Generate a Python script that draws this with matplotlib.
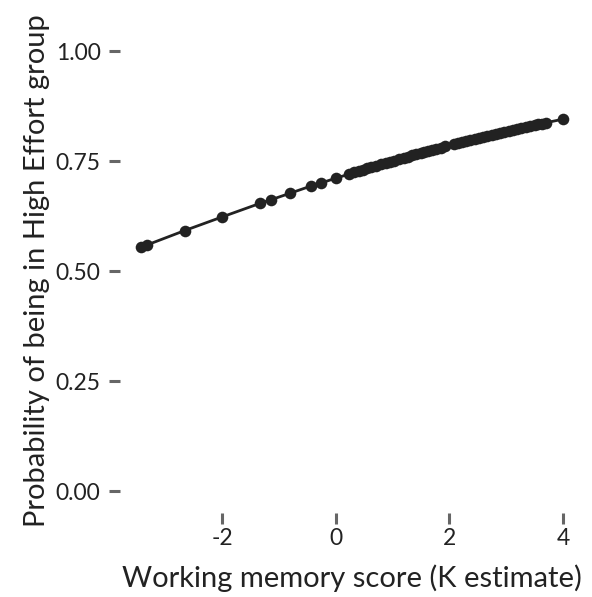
import matplotlib
matplotlib.use('Agg')
import matplotlib.pyplot as plt

# values
wm_score = [-3.43, -3.33, -2.66, -2.00, -1.33, -1.14, -0.80, -0.44, -0.26, 0.00,
            0.23, 0.32, 0.40, 0.47, 0.55, 0.62, 0.70, 0.80, 0.88, 0.95,
            1.02, 1.12, 1.20, 1.27, 1.35, 1.42, 1.50, 1.56, 1.63, 1.70,
            1.77, 1.85, 1.92, 2.08, 2.15, 2.22, 2.30, 2.37, 2.45, 2.52,
            2.60, 2.67, 2.75, 2.82, 2.90, 2.97, 3.05, 3.12, 3.20, 3.27,
            3.35, 3.42, 3.50, 3.57, 3.63, 3.70, 4.00]
p_high = [0.554, 0.559, 0.592, 0.623, 0.654, 0.662, 0.677, 0.693, 0.700, 0.711,
          0.720, 0.724, 0.727, 0.730, 0.733, 0.736, 0.739, 0.743, 0.746, 0.748,
          0.751, 0.755, 0.757, 0.760, 0.763, 0.765, 0.768, 0.770, 0.773, 0.775,
          0.778, 0.780, 0.783, 0.788, 0.790, 0.793, 0.795, 0.798, 0.800, 0.802,
          0.805, 0.807, 0.809, 0.812, 0.814, 0.816, 0.819, 0.821, 0.823, 0.825,
          0.827, 0.829, 0.831, 0.833, 0.835, 0.837, 0.845]

x_ticks = [-2, 0, 2, 4]
y_ticks = [0.00, 0.25, 0.50, 0.75, 1.00]
y_tick_labels = ['0.00', '0.25', '0.50', '0.75', '1.00']

plt.rcParams['font.family'] = ['Lato', 'DejaVu Sans']

fig = plt.figure(figsize=(5.92, 5.97), dpi=100)
ax = fig.add_axes([120 / 592, 1 - 513 / 597, 464 / 592, 484 / 597])

ax.plot(wm_score, p_high, color='#222222', linewidth=2.0, zorder=2)
ax.scatter(wm_score, p_high, s=70, color='#222222', zorder=3, linewidths=0)

# ggplot-like 5% expansion
xmin, xmax = min(wm_score), max(wm_score)
pad = 0.05 * (xmax - xmin)
ax.set_xlim(xmin - pad, xmax + pad)
ax.set_ylim(-0.05, 1.05)

ax.set_xticks(x_ticks)
ax.set_xticklabels([str(t) for t in x_ticks])
ax.set_yticks(y_ticks)
ax.set_yticklabels(y_tick_labels)

for s in ax.spines.values():
    s.set_visible(False)

ax.tick_params(axis='both', direction='out', length=8, width=2.2,
               color='#666666', labelsize=16.5, labelcolor='#222222')
ax.tick_params(axis='y', pad=6)
ax.tick_params(axis='x', pad=3)

ax.set_xlabel('Working memory score (K estimate)', fontsize=21, color='#222222', labelpad=11)
ax.set_ylabel('Probability of being in High Effort group', fontsize=21, color='#222222', labelpad=4)

plt.savefig('out.png', dpi=100)
